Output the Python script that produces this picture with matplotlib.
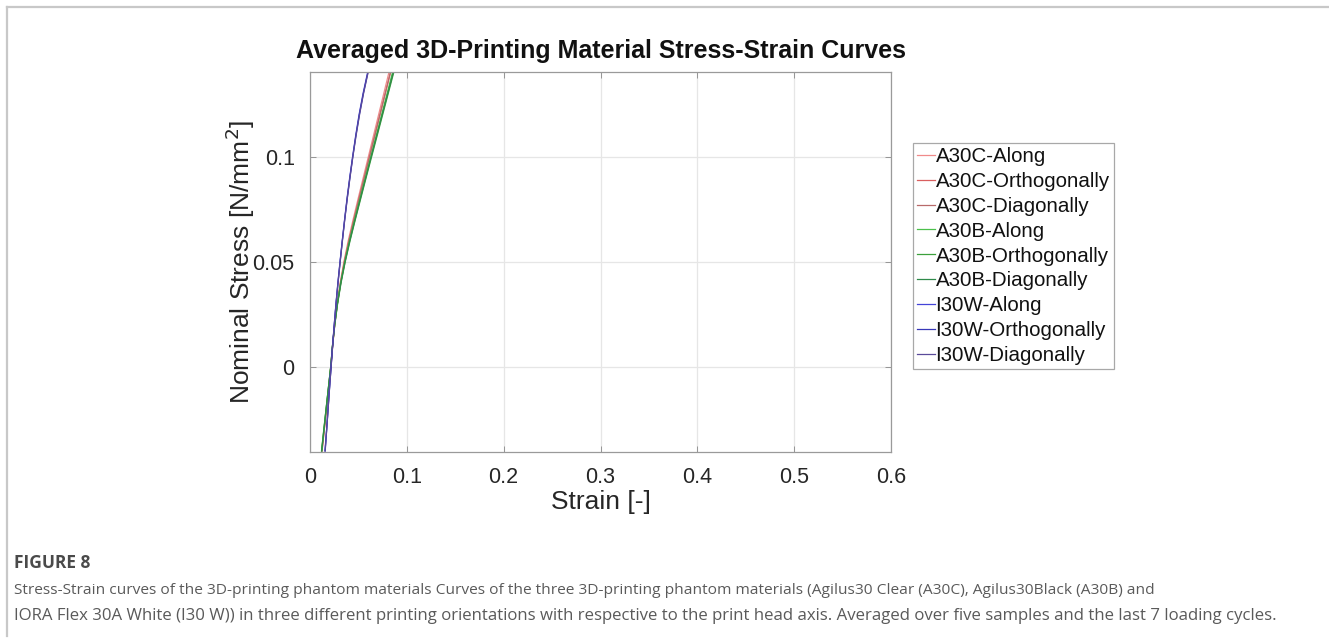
import matplotlib
matplotlib.use("Agg")
import matplotlib.pyplot as plt
from matplotlib.lines import Line2D

plt.rcParams['font.family'] = ['Liberation Sans', 'DejaVu Sans']

# ---------------- data ----------------
stress = [-0.04, -0.03, -0.02, -0.01, 0.00, 0.01, 0.02, 0.03, 0.04, 0.05,
          0.06, 0.07, 0.08, 0.09, 0.10, 0.11, 0.12, 0.13, 0.14]

a30c_along = [0.0125, 0.0147, 0.0170, 0.0193, 0.0215, 0.0233, 0.0254, 0.0280, 0.0312, 0.0350,
              0.0395, 0.0445, 0.0497, 0.0550, 0.0603, 0.0656, 0.0709, 0.0762, 0.0815]
a30c_orth = [0.0124, 0.0147, 0.0170, 0.0193, 0.0215, 0.0234, 0.0256, 0.0283, 0.0317, 0.0357,
             0.0404, 0.0455, 0.0508, 0.0562, 0.0616, 0.0670, 0.0724, 0.0778, 0.0832]
a30c_diag = [0.0123, 0.0146, 0.0169, 0.0192, 0.0214, 0.0233, 0.0255, 0.0282, 0.0315, 0.0355,
             0.0402, 0.0453, 0.0506, 0.0560, 0.0614, 0.0668, 0.0722, 0.0776, 0.0830]
a30b_along = [0.0120, 0.0143, 0.0166, 0.0190, 0.0214, 0.0232, 0.0254, 0.0282, 0.0317, 0.0359,
              0.0408, 0.0461, 0.0516, 0.0572, 0.0628, 0.0684, 0.0740, 0.0796, 0.0852]
a30b_orth = [0.0119, 0.0142, 0.0166, 0.0190, 0.0214, 0.0233, 0.0256, 0.0285, 0.0321, 0.0364,
             0.0414, 0.0468, 0.0524, 0.0580, 0.0637, 0.0694, 0.0751, 0.0808, 0.0865]
a30b_diag = [0.0121, 0.0144, 0.0167, 0.0190, 0.0214, 0.0232, 0.0255, 0.0284, 0.0319, 0.0362,
             0.0411, 0.0465, 0.0520, 0.0576, 0.0632, 0.0689, 0.0746, 0.0803, 0.0860]
i30w_along = [0.0155, 0.0171, 0.0186, 0.0201, 0.0217, 0.0233, 0.0250, 0.0268, 0.0288, 0.0310,
              0.0333, 0.0357, 0.0382, 0.0410, 0.0440, 0.0472, 0.0507, 0.0548, 0.0595]
i30w_orth = [0.0156, 0.0172, 0.0187, 0.0202, 0.0218, 0.0234, 0.0251, 0.0269, 0.0289, 0.0311,
             0.0334, 0.0358, 0.0384, 0.0412, 0.0442, 0.0474, 0.0510, 0.0551, 0.0598]
i30w_diag = [0.0157, 0.0172, 0.0187, 0.0202, 0.0218, 0.0234, 0.0251, 0.0269, 0.0290, 0.0312,
             0.0335, 0.0359, 0.0385, 0.0413, 0.0443, 0.0476, 0.0512, 0.0553, 0.0600]

labels = ["A30C-Along", "A30C-Orthogonally", "A30C-Diagonally",
          "A30B-Along", "A30B-Orthogonally", "A30B-Diagonally",
          "I30W-Along", "I30W-Orthogonally", "I30W-Diagonally"]
series = [a30c_along, a30c_orth, a30c_diag,
          a30b_along, a30b_orth, a30b_diag,
          i30w_along, i30w_orth, i30w_diag]
colors = ["#f08a8a", "#d95f5f", "#b86a6a",
          "#4cc04c", "#3ca03c", "#2f8a4a",
          "#4444d8", "#3838b8", "#5a4a9a"]

xticks = [0, 0.1, 0.2, 0.3, 0.4, 0.5, 0.6]
yticks = [0, 0.05, 0.1]
xtick_labels = ["0", "0.1", "0.2", "0.3", "0.4", "0.5", "0.6"]
ytick_labels = ["0", "0.05", "0.1"]

# ---------------- figure ----------------
W, H = 1329, 639
fig = plt.figure(figsize=(W / 100, H / 100), dpi=100)

# page frame (top and left light gray rules)
fig.add_artist(Line2D([7 / W, 7 / W], [1 - 7 / H, 1 - 636 / H], color="#c8c8c8", lw=1.6,
                      transform=fig.transFigure))
fig.add_artist(Line2D([7 / W, 1.0], [1 - 7 / H, 1 - 7 / H], color="#c8c8c8", lw=1.6,
                      transform=fig.transFigure))

ax = fig.add_axes([310 / W, 1 - 452 / H, (891 - 310) / W, (452 - 72) / H])
for s, lab, c in zip(series, labels, colors):
    ax.plot(s, stress, color=c, lw=0.9, label=lab)

ax.set_xlim(0, 0.6)
ax.set_ylim(-0.0405, 0.1402)
ax.set_xticks(xticks)
ax.set_xticklabels(xtick_labels)
ax.set_yticks(yticks)
ax.set_yticklabels(ytick_labels)
ax.grid(True, color="#e6e6e6", lw=0.9)
ax.set_axisbelow(True)
ax.tick_params(direction="in", length=4, width=0.6, color="#888888",
               labelsize=15.5, labelcolor="#262626", pad=11, top=True, right=True)
for sp in ax.spines.values():
    sp.set_color("#9a9a9a")
    sp.set_linewidth(0.9)

ax.set_xlabel("Strain [-]", fontsize=19, color="#262626", labelpad=1)
ax.set_ylabel("Nominal Stress [N/mm$^2$]", fontsize=19, color="#262626", labelpad=-3)
ax.set_title("Averaged 3D-Printing Material Stress-Strain Curves", fontsize=18,
             fontweight="bold", color="#111111", pad=10)

handles, labs = ax.get_legend_handles_labels()
leg = fig.legend(handles, labs, loc="upper left",
                 bbox_to_anchor=(913 / W, 1 - 143 / H), borderaxespad=0,
                 fontsize=14.8, handlelength=0.85, handletextpad=0.05,
                 labelspacing=0.285, borderpad=0.2, fancybox=False,
                 edgecolor="#a8a8a8", framealpha=1)
leg.get_frame().set_linewidth(0.9)
for t in leg.get_texts():
    t.set_color("#111111")

# caption
fig.text(14 / W, 1 - 563 / H, "FIGURE 8", fontsize=12.5, fontweight="bold",
         color="#4a4a4a", family=["Open Sans", "DejaVu Sans"], va="center")
fig.text(14 / W, 1 - 590 / H,
         "Stress-Strain curves of the 3D-printing phantom materials Curves of the three 3D-printing "
         "phantom materials (Agilus30 Clear (A30C), Agilus30Black (A30B) and",
         fontsize=11.15, color="#5a5a5a", family=["Open Sans", "DejaVu Sans"], va="center")
fig.text(14 / W, 1 - 616 / H,
         "IORA Flex 30A White (I30 W)) in three different printing orientations with respective to the "
         "print head axis. Averaged over five samples and the last 7 loading cycles.",
         fontsize=12.1, color="#5a5a5a", family=["Open Sans", "DejaVu Sans"], va="center")

fig.savefig("out.png", dpi=100, facecolor="white")
